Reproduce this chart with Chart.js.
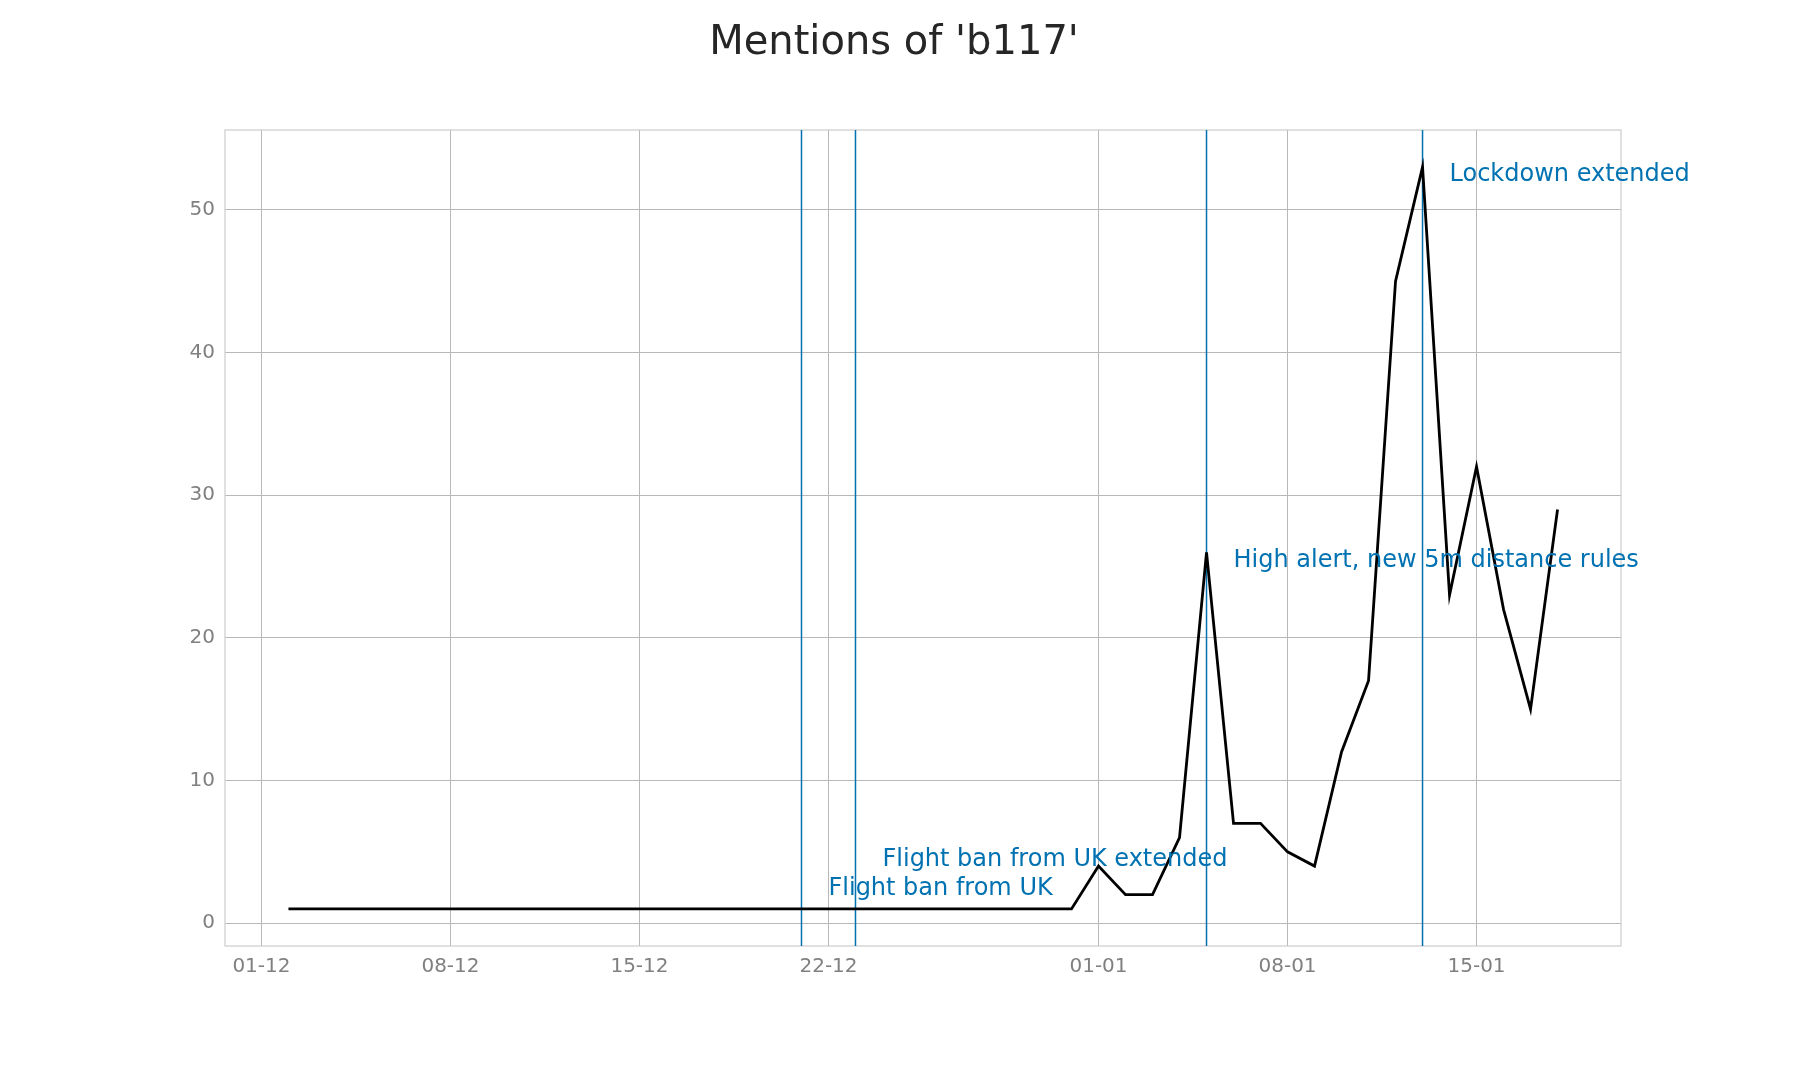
<!DOCTYPE html>
<html>
<head>
<meta charset="utf-8">
<script src="https://cdn.jsdelivr.net/npm/chart.js@4"></script>
<style>
  html, body { margin: 0; padding: 0; background: #fff; }
  #wrap { width: 1800px; height: 1080px; }
</style>
</head>
<body>
<div id="wrap"><canvas id="chart" width="1800" height="1080"></canvas></div>
<script>
const dates = [
  '2020-12-02', '2020-12-03', '2020-12-04', '2020-12-05', '2020-12-06', '2020-12-07',
  '2020-12-08', '2020-12-09', '2020-12-10', '2020-12-11', '2020-12-12', '2020-12-13',
  '2020-12-14', '2020-12-15', '2020-12-16', '2020-12-17', '2020-12-18', '2020-12-19',
  '2020-12-20', '2020-12-21', '2020-12-22', '2020-12-23', '2020-12-24', '2020-12-25',
  '2020-12-26', '2020-12-27', '2020-12-28', '2020-12-29', '2020-12-30', '2020-12-31',
  '2021-01-01', '2021-01-02', '2021-01-03', '2021-01-04', '2021-01-05', '2021-01-06',
  '2021-01-07', '2021-01-08', '2021-01-09', '2021-01-10', '2021-01-11', '2021-01-12',
  '2021-01-13', '2021-01-14', '2021-01-15', '2021-01-16', '2021-01-17', '2021-01-18'
];
const mentions = [
  1, 1, 1, 1, 1, 1,
  1, 1, 1, 1, 1, 1,
  1, 1, 1, 1, 1, 1,
  1, 1, 1, 1, 1, 1,
  1, 1, 1, 1, 1, 1,
  4, 2, 2, 6, 26, 7,
  7, 5, 4, 12, 17, 45,
  53, 23, 32, 22, 15, 29
];

const xTickDates = ['2020-12-01', '2020-12-08', '2020-12-15', '2020-12-22', '2021-01-01', '2021-01-08', '2021-01-15'];
const yTicks = [0, 10, 20, 30, 40, 50];

// events: vertical line date, label date, label height, text
const eventDates = ['2020-12-21', '2020-12-23', '2021-01-05', '2021-01-13'];
const eventLabelDates = ['2020-12-22', '2020-12-24', '2021-01-06', '2021-01-14'];
const eventLabelY = [2, 4, 25, 52];
const eventLabels = ['Flight ban from UK', 'Flight ban from UK extended', 'High alert, new 5m distance rules', 'Lockdown extended'];

const chartTitle = "Mentions of 'b117'";

// days since 1 Dec 2020
const origin = Date.UTC(2020, 11, 1);
function dayNum(s) {
  const p = s.split('-').map(Number);
  return (Date.UTC(p[0], p[1] - 1, p[2]) - origin) / 86400000;
}
function fmt(v) {
  const d = new Date(origin + v * 86400000);
  return String(d.getUTCDate()).padStart(2, '0') + '-' + String(d.getUTCMonth() + 1).padStart(2, '0');
}

const FONT = "'DejaVu Sans', sans-serif";
const BLUE = '#0072B2';

const framePlugin = {
  id: 'frame',
  beforeDatasetsDraw(chart) {
    const { ctx, chartArea: a, scales } = chart;
    ctx.save();
    ctx.strokeStyle = '#cccccc';
    ctx.lineWidth = 1.2;
    ctx.strokeRect(a.left, a.top, a.right - a.left, a.bottom - a.top);
    ctx.strokeStyle = BLUE;
    ctx.lineWidth = 1.5;
    eventDates.forEach(d => {
      const x = scales.x.getPixelForValue(dayNum(d));
      ctx.beginPath();
      ctx.moveTo(x, a.top);
      ctx.lineTo(x, a.bottom);
      ctx.stroke();
    });
    ctx.restore();
  },
  afterDatasetsDraw(chart) {
    const { ctx, scales } = chart;
    ctx.save();
    ctx.fillStyle = BLUE;
    ctx.font = '24px ' + FONT;
    ctx.textAlign = 'left';
    ctx.textBaseline = 'alphabetic';
    eventLabels.forEach((t, i) => {
      const x = scales.x.getPixelForValue(dayNum(eventLabelDates[i]));
      const y = scales.y.getPixelForValue(eventLabelY[i]);
      ctx.fillText(t, x, y);
    });
    // figure title, centred on the whole canvas
    ctx.fillStyle = '#262626';
    ctx.font = '40px ' + FONT;
    ctx.textAlign = 'center';
    ctx.textBaseline = 'middle';
    ctx.fillText(chartTitle, chart.width / 2 - 6, 44);
    ctx.restore();
  }
};

new Chart(document.getElementById('chart'), {
  type: 'line',
  data: {
    datasets: [{
      label: 'b117',
      data: dates.map((d, i) => ({ x: dayNum(d), y: mentions[i] })),
      borderColor: '#000000',
      borderWidth: 2.8,
      pointRadius: 0,
      tension: 0,
      fill: false
    }]
  },
  options: {
    responsive: false,
    animation: false,
    layout: { padding: { top: 130, right: 179, bottom: 0, left: 0 } },
    plugins: {
      legend: { display: false },
      tooltip: { enabled: false },
      title: { display: false }
    },
    scales: {
      x: {
        type: 'linear',
        min: -1.35,
        max: 50.35,
        afterBuildTicks: s => { s.ticks = xTickDates.map(d => ({ value: dayNum(d) })); },
        afterFit: s => { s.height = 134; },
        grid: { color: '#b8b8b8', lineWidth: 1, drawTicks: false },
        border: { display: false },
        ticks: {
          color: '#808080',
          font: { family: FONT, size: 20 },
          padding: 9,
          maxRotation: 0,
          autoSkip: false,
          callback: v => fmt(v)
        }
      },
      y: {
        min: -1.6,
        max: 55.6,
        afterBuildTicks: s => { s.ticks = yTicks.map(v => ({ value: v })); },
        afterFit: s => { s.width = 225; },
        grid: { color: '#b8b8b8', lineWidth: 1, drawTicks: false },
        border: { display: false },
        ticks: {
          color: '#808080',
          font: { family: FONT, size: 20 },
          padding: 10,
          callback: v => String(v)
        }
      }
    }
  },
  plugins: [framePlugin]
});
</script>
</body>
</html>
